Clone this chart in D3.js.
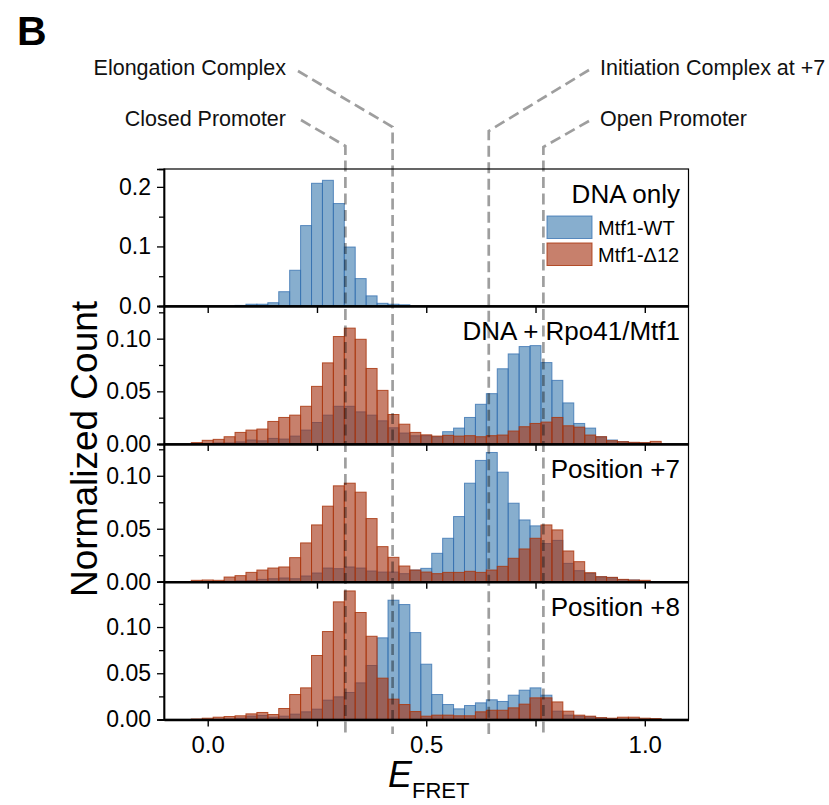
<!DOCTYPE html>
<html>
<head>
<meta charset="utf-8">
<script src="https://cdn.jsdelivr.net/npm/d3@7"></script>
<style>
  html, body { margin: 0; padding: 0; background: #fff; }
  svg { display: block; font-family: "Liberation Sans", Arial, Helvetica, sans-serif; }
</style>
</head>
<body>
<svg id="chart" width="829" height="805"></svg>
<script>
// ---------- DATA ----------
const bins = [-0.025, 0, 0.025, 0.05, 0.075, 0.1, 0.125, 0.15, 0.175, 0.2, 0.225, 0.25, 0.275, 0.3, 0.325, 0.35, 0.375, 0.4, 0.425, 0.45, 0.475, 0.5,
  0.525, 0.55, 0.575, 0.6, 0.625, 0.65, 0.675, 0.7, 0.725, 0.75, 0.775, 0.8, 0.825, 0.85, 0.875, 0.9, 0.925, 0.95, 0.975, 1.0, 1.025];
const binWidth = 0.025;

const seriesNames = ["Mtf1-WT", "Mtf1-\u039412"];
const panelLabels = ["DNA only", "DNA + Rpo41/Mtf1", "Position +7", "Position +8"];

// Panel 1: DNA only
const dnaOnlyWT = [0, 0, 0, 0, 0.001, 0.003, 0.003, 0.0055, 0.024, 0.06, 0.135, 0.206, 0.211, 0.172, 0.099, 0.046, 0.017, 0.0045, 0.003, 0.002, 0, 0,
  0, 0, 0, 0, 0, 0, 0, 0, 0, 0, 0, 0, 0, 0, 0, 0, 0, 0, 0, 0, 0];
const dnaOnlyD12 = [];

// Panel 2: DNA + Rpo41/Mtf1
const rpoWT = [0, 0.0005, 0.001, 0.001, 0.002, 0.0038, 0.003, 0.0053, 0.0047, 0.0075, 0.0132, 0.0204, 0.0274, 0.0358, 0.0358, 0.0305, 0.0274, 0.022, 0.0154, 0.0104, 0.0078, 0.0079,
  0.0069, 0.0117, 0.0151, 0.0252, 0.0377, 0.0478, 0.0714, 0.0855, 0.0925, 0.0934, 0.0773, 0.0604, 0.039, 0.0195, 0.0151, 0.0069, 0.0038, 0.0022, 0.0013, 0.001, 0];
const rpoD12 = [0.0013, 0.0035, 0.0044, 0.0069, 0.011, 0.0132, 0.0142, 0.0214, 0.0252, 0.0274, 0.0358, 0.0547, 0.077, 0.102, 0.110, 0.0994, 0.0717, 0.0509, 0.028, 0.0188, 0.011, 0.0087,
  0.0075, 0.0082, 0.0075, 0.0079, 0.0069, 0.0079, 0.0085, 0.0123, 0.0164, 0.0195, 0.0208, 0.0252, 0.0173, 0.016, 0.0085, 0.0069, 0.0031, 0.0022, 0.0016, 0.0013, 0.0025];

// Panel 3: Position +7
const p7WT = [0, 0, 0, 0.0005, 0.0008, 0.001, 0.0022, 0.0028, 0.0035, 0.0028, 0.0054, 0.0082, 0.0129, 0.0123, 0.0139, 0.0129, 0.0101, 0.0091, 0.0091, 0.0076, 0.011, 0.0126,
  0.0268, 0.041, 0.0615, 0.093, 0.1145, 0.122, 0.1034, 0.0741, 0.0583, 0.0527, 0.036, 0.039, 0.0173, 0.0104, 0.0079, 0.0047, 0.004, 0.002, 0.0016, 0, 0];
const p7D12 = [0.0013, 0.0016, 0.0013, 0.0044, 0.0057, 0.0088, 0.011, 0.0129, 0.0139, 0.0227, 0.0366, 0.0536, 0.0713, 0.0905, 0.093, 0.0845, 0.0596, 0.0331, 0.023, 0.0148, 0.011, 0.0091,
  0.0076, 0.0088, 0.0088, 0.0098, 0.0088, 0.011, 0.0145, 0.0221, 0.0309, 0.041, 0.0536, 0.0489, 0.029, 0.0189, 0.0085, 0.0047, 0.0041, 0.0022, 0.0016, 0.0013, 0];

// Panel 4: Position +8
const p8WT = [0, 0, 0, 0.0005, 0.0014, 0.0036, 0.0043, 0.0025, 0.0036, 0.0058, 0.0083, 0.0112, 0.0209, 0.0245, 0.0292, 0.0396, 0.0584, 0.0883, 0.129, 0.1243, 0.094, 0.0598,
  0.027, 0.0162, 0.0115, 0.0151, 0.018, 0.0213, 0.0195, 0.0263, 0.0317, 0.0342, 0.0263, 0.009, 0.0047, 0.0036, 0.003, 0.0018, 0.001, 0, 0, 0, 0];
const p8D12 = [0.0005, 0.0014, 0.0025, 0.0032, 0.004, 0.0061, 0.0076, 0.0054, 0.0119, 0.027, 0.0342, 0.0692, 0.0951, 0.1272, 0.139, 0.1157, 0.09, 0.0447, 0.022, 0.0162, 0.0086, 0.0036,
  0.0047, 0.0047, 0.004, 0.004, 0.0083, 0.01, 0.01, 0.0126, 0.0166, 0.0234, 0.0234, 0.019, 0.009, 0.0047, 0.0036, 0.002, 0.0014, 0.0025, 0.0025, 0.0014, 0.001];

// y-axis maxima & ticks
const yMax = [0.23, 0.131, 0.130, 0.149];
const yMajorTicks = [[0, 0.1, 0.2], [0, 0.05, 0.10], [0, 0.05, 0.10], [0, 0.05, 0.10]];
const yMinorTicks = [[0.05, 0.15], [0.025, 0.075, 0.125], [0.025, 0.075, 0.125], [0.025, 0.075, 0.125]];
const yTickFormats = [".1f", ".2f", ".2f", ".2f"];

const xTicks = [0, 0.25, 0.5, 0.75, 1.0];
const xTickLabels = ["0.0", "", "0.5", "", "1.0"];

// annotations (state positions in E_FRET)
const stateNames = ["Closed Promoter", "Elongation Complex", "Initiation Complex at +7", "Open Promoter"];
const stateE = [0.315, 0.423, 0.643, 0.768];

// ---------- DRAW ----------
const svg = d3.select("#chart");
const blueFill = "rgba(70,130,180,0.65)";
const blueEdge = "rgba(50,110,175,0.75)";
const redFill = "rgba(164,50,18,0.62)";
const redEdge = "rgba(170,55,15,0.85)";

const x = d3.scaleLinear().domain([-0.1, 1.1]).range([164, 688.5]);
const panelBounds = [[169, 306], [306, 444], [444, 581.7], [581.7, 719.5]];
const panelData = [[dnaOnlyWT, dnaOnlyD12], [rpoWT, rpoD12], [p7WT, p7D12], [p8WT, p8D12]];

panelData.forEach((series, i) => {
  const [top, bottom] = panelBounds[i];
  const y = d3.scaleLinear().domain([0, yMax[i]]).range([bottom, top]);
  const g = svg.append("g");

  const fills = [blueFill, redFill];
  const edges = [blueEdge, redEdge];
  series.forEach((vals, s) => {
    const data = bins.map((b, k) => ({ b, v: vals[k] || 0 })).filter(d => d.v > 0);
    g.append("g").selectAll("rect").data(data).join("rect")
      .attr("x", d => x(d.b - binWidth / 2))
      .attr("width", d => x(d.b + binWidth / 2) - x(d.b - binWidth / 2))
      .attr("y", d => y(d.v))
      .attr("height", d => y(0) - y(d.v))
      .attr("fill", fills[s])
      .attr("stroke", edges[s])
      .attr("stroke-width", 1);
  });

  // frame
  g.append("rect").attr("x", x(-0.1)).attr("y", top)
    .attr("width", x(1.1) - x(-0.1)).attr("height", bottom - top)
    .attr("fill", "none").attr("stroke", "#000").attr("stroke-width", 1.2);

  // y axis
  const yAxisMajor = d3.axisLeft(y).tickValues(yMajorTicks[i]).tickSize(7).tickPadding(6)
    .tickFormat(d3.format(yTickFormats[i]));
  const ya = g.append("g").attr("transform", `translate(${x(-0.1)},0)`).call(yAxisMajor);
  const yAxisMinor = d3.axisLeft(y).tickValues(yMinorTicks[i]).tickSize(5).tickFormat("");
  const ym = g.append("g").attr("transform", `translate(${x(-0.1)},0)`).call(yAxisMinor);
  [ya, ym].forEach(a => {
    a.select(".domain").attr("stroke-width", 1.4);
    a.selectAll(".tick line").attr("stroke-width", 1.3);
  });
  ya.selectAll("text").attr("font-size", 23).attr("fill", "#000")
    .attr("font-family", "Liberation Sans, Arial, sans-serif");

  // x axis
  const xAxis = d3.axisBottom(x).tickValues(xTicks).tickSize(7).tickPadding(9)
    .tickSizeOuter(0)
    .tickFormat((d, k) => i === 3 ? xTickLabels[k] : "");
  const xa = g.append("g").attr("transform", `translate(0,${bottom})`).call(xAxis);
  xa.select(".domain").attr("stroke-width", 2.6);
  xa.selectAll(".tick line").attr("stroke-width", 1.4);
  xa.selectAll("text").attr("font-size", 24).attr("fill", "#000")
    .attr("font-family", "Liberation Sans, Arial, sans-serif");

  // panel label
  g.append("text").attr("x", 680).attr("y", top + 34)
    .attr("text-anchor", "end").attr("font-size", 26).text(panelLabels[i]);
});

// legend in first panel
const legendY = [216, 243];
[blueFill, redFill].forEach((f, s) => {
  svg.append("rect").attr("x", 547).attr("y", legendY[s]).attr("width", 45).attr("height", 22.5)
    .attr("fill", f).attr("stroke", [blueEdge, redEdge][s]).attr("stroke-width", 1);
  svg.append("text").attr("x", 598).attr("y", legendY[s] + 18.5)
    .attr("font-size", 20).text(seriesNames[s]);
});

// annotation dashed lines
const dash = "11,5.5";
const lineStyle = sel => sel.attr("fill", "none").attr("stroke", "rgba(0,0,0,0.38)")
  .attr("stroke-width", 2.7).attr("stroke-dasharray", dash);
const annot = [
  { text: [286, 126, "end"], start: [301, 120], bend: 146 },
  { text: [286, 75, "end"], start: [298, 71], bend: 127 },
  { text: [600, 75, "start"], start: [589, 70], bend: 131 },
  { text: [600, 126, "start"], start: [589, 121], bend: 147 }
];
annot.forEach((a, k) => {
  const xv = x(stateE[k]);
  svg.append("path")
    .attr("d", `M${a.start[0]},${a.start[1]} L${xv},${a.bend} L${xv},734`)
    .call(lineStyle);
  svg.append("text").attr("x", a.text[0]).attr("y", a.text[1])
    .attr("text-anchor", a.text[2]).attr("font-size", 21.5).attr("fill", "#111")
    .text(stateNames[k]);
});

// axis titles
svg.append("text").attr("transform", "translate(97,449) rotate(-90)")
  .attr("text-anchor", "middle").attr("font-size", 37).text("Normalized Count");

const xt = svg.append("text").attr("x", 388).attr("y", 787);
xt.append("tspan").attr("font-style", "italic").attr("font-size", 36).text("E");
xt.append("tspan").attr("font-size", 22).attr("dy", 11).text("FRET");

// panel letter
svg.append("text").attr("x", 17).attr("y", 45).attr("font-weight", "bold")
  .attr("font-size", 41).text("B");
</script>
</body>
</html>
